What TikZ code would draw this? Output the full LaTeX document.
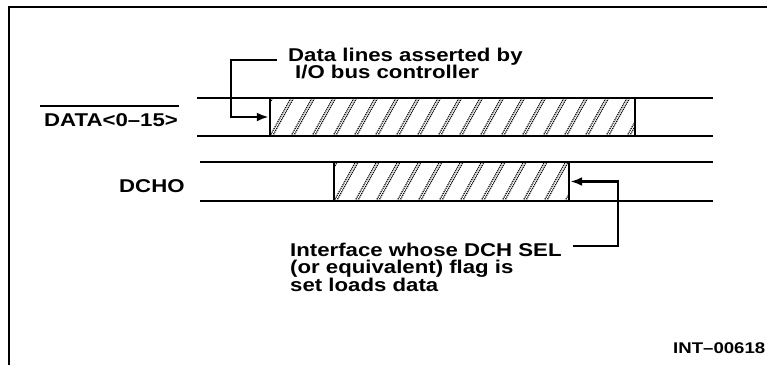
\documentclass[tikz,border=0pt]{standalone}
\usepackage{fontspec}
\setmainfont{Liberation Sans}[FakeStretch=1.2]
\usetikzlibrary{arrows.meta}
\newcommand\notefont{\fontsize{18.5}{17.8}\selectfont\bfseries\lineskiplimit-30pt\relax}
\tikzset{
  sig/.style={line width=2.4pt},
  frameline/.style={line width=2.4pt},
  arr/.style={line width=2.4pt, -{Latex[length=12pt,width=9pt]}},
  lbl/.style={inner sep=0pt, font=\fontsize{18.5}{18.5}\selectfont\bfseries},
  note/.style={inner sep=0pt, align=left, font=\notefont},
  hatchline/.style={line width=1.2pt, dash pattern=on 1.1pt off 0.9pt, black},
  hatchbox/.style={draw, line width=2.4pt, inner sep=0pt,
    path picture={
      \foreach \k in {-3,...,20} {
        \draw[hatchline] ([xshift=\k*21pt]path picture bounding box.south west) -- ++(21pt,38pt);
        \draw[hatchline] ([xshift=\k*21pt+2.6pt]path picture bounding box.south west) -- ++(21pt,38pt);
      }
    }},
}
\begin{document}
\begin{tikzpicture}[x=1pt,y=-1pt]
\useasboundingbox (0,0) rectangle (767,365);
% frame
\draw[frameline] (767,7) -- (9,7) -- (9,365);
% DATA signal
\coordinate (d1s) at (197,98);  \coordinate (d1e) at (713,98);
\coordinate (d2s) at (197,136); \coordinate (d2e) at (713,136);
\draw[sig] (d1s) -- (d1e);
\draw[sig] (d2s) -- (d2e);
\node[hatchbox, minimum width=365pt, minimum height=38pt] (dbox) at (452.5,117) {};
% DCHO signal
\coordinate (c1s) at (200,162); \coordinate (c1e) at (713,162);
\coordinate (c2s) at (200,201); \coordinate (c2e) at (713,201);
\draw[sig] (c1s) -- (c1e);
\draw[sig] (c2s) -- (c2e);
\node[hatchbox, minimum width=235pt, minimum height=39pt] (cbox) at (451.5,181.5) {};
% signal labels
\node[lbl, anchor=base west] (datalbl) at (44,126) {DATA<0–15>};
\draw[line width=2pt] ([shift={(-4pt,7pt)}]datalbl.north west) -- ([shift={(1pt,7pt)}]datalbl.north east);
\node[lbl, anchor=base west] (dcholbl) at (119,192) {DCHO};
% notes
\node[note, anchor=north west] (note1) at (288,47.5) {Data lines asserted by\\\hspace*{7pt}I/O bus controller};
\node[note, anchor=north west] (note2) at (290,242.5) {Interface whose DCH SEL\\(or equivalent) flag is\\set loads data};
\coordinate (a1) at (277,60);
\coordinate (a2) at (573,246);
\draw[arr] (a1) -- ++(-46,0) |- (dbox.west);
\draw[arr] (a2) -- ++(45,0) |- (cbox.east);
% id
\node[inner sep=0pt, anchor=base west, font=\fontsize{15.5}{15.5}\selectfont\bfseries] (figid) at (673,353) {INT–00618};
\end{tikzpicture}
\end{document}
